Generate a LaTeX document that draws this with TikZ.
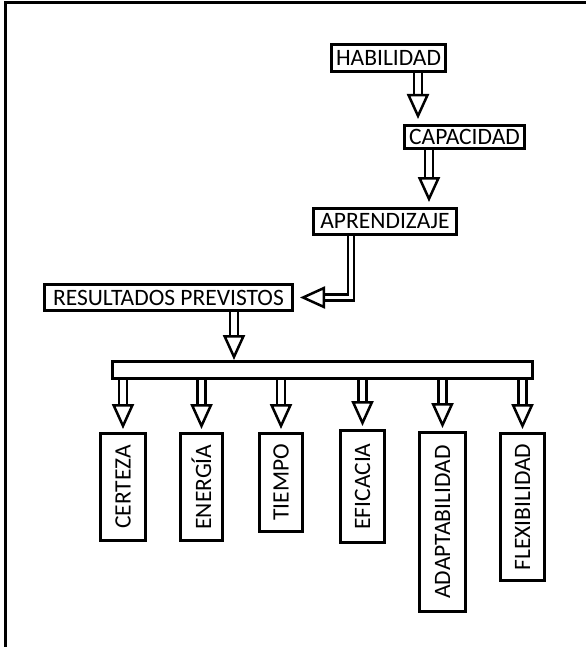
\documentclass[tikz,border=0pt]{standalone}
\usepackage{fontspec}
\setmainfont{Carlito}
\usetikzlibrary{arrows.meta,calc,positioning}

\begin{document}
\begin{tikzpicture}[x=1pt, y=-1pt, line width=3pt]
		% Estilos de cajas y flechas
		\tikzset{caja/.style={draw, fill=white, inner sep=0pt, font=\fontsize{23.5}{25}\selectfont},
			vertical/.style={caja, rotate=90},
			flecha/.style={draw=black, line width=2.5pt, double=white, double distance=5.5pt,
				-{Triangle[open, fill=white, length=25pt, width=22pt]}}}
		
		\useasboundingbox (0,0) rectangle (586,647);
		
		% --- Marco ---
		\draw (5,647) -- (5,3) -- (586,3);
		
		% --- Cadena superior ---
		\node[caja, minimum width=114pt, minimum height=27pt] (hab) at (388.5,58) {HABILIDAD};
		\node[caja, minimum width=120pt, minimum height=23pt] (cap) at (464.5,137) {CAPACIDAD};
		\node[caja, minimum width=143pt, minimum height=26pt] (apr) at (385,221.5) {APRENDIZAJE};
		\node[caja, minimum width=248pt, minimum height=26pt] (res) at (168.5,297.5) {RESULTADOS PREVISTOS};
		
		% --- Barra ---
		\node[caja, minimum width=420pt, minimum height=17pt] (barra) at (322.5,370) {};
		
		% --- Resultados (verticales) ---
		\node[vertical, minimum width=107pt, minimum height=45pt] (cer) at (123,487) {CERTEZA};
		\node[vertical, minimum width=107pt, minimum height=42pt] (ene) at (201.5,487) {ENERGÍA};
		\node[vertical, minimum width=98pt, minimum height=43pt] (tie) at (281,482.5) {TIEMPO};
		\node[vertical, minimum width=112pt, minimum height=44pt] (efi) at (362.5,486.5) {EFICACIA};
		\node[vertical, minimum width=179pt, minimum height=46pt] (ada) at (442.5,522) {ADAPTABILIDAD};
		\node[vertical, minimum width=147pt, minimum height=44pt] (fle) at (522.5,507) {FLEXIBILIDAD};
		
		% --- Flechas ---
		\draw[flecha, shorten >=5pt] ([xshift=29.5pt]hab.south) -- ([xshift=29.5pt]hab.south |- cap.north);
		\draw[flecha, shorten >=5pt] ([xshift=-35.5pt]cap.south) -- ([xshift=-35.5pt]cap.south |- apr.north);
		\draw[flecha, double distance=3.5pt, shorten >=6pt] ([xshift=-34pt]apr.south) |- (res.east);
		\draw[flecha] ([xshift=65.5pt]res.south) -- ([xshift=65.5pt]res.south |- barra.north);
		\foreach \n in {cer,ene,tie,efi,ada,fle}
			\draw[flecha, shorten >=3pt] (barra.south -| \n.center) -- (\n.east);
		
\end{tikzpicture}
\end{document}
